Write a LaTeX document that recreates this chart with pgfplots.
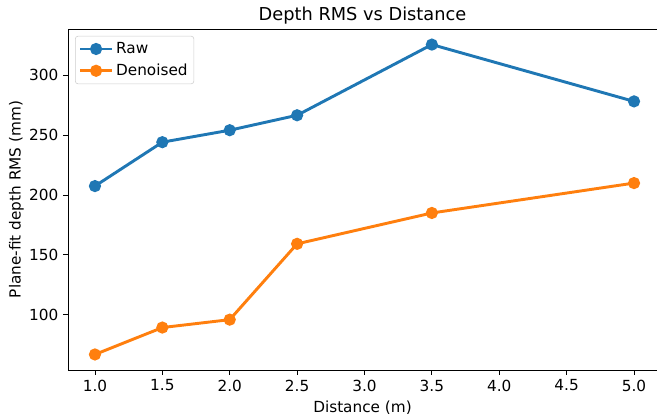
\documentclass[border=0pt]{standalone}
\usepackage{fontspec}
\setmainfont{DejaVu Sans}
\usepackage{pgfplots}
\pgfplotsset{compat=1.18}
\definecolor{c0}{HTML}{1F77B4}
\definecolor{c1}{HTML}{FF7F0E}
\begin{document}
\begin{tikzpicture}[x=0.72pt,y=0.72pt]
\begin{axis}[
  at={(0,0)}, anchor=south west,
  scale only axis,
  width=424.1pt, height=245.5pt,
  xmin=0.8, xmax=5.1707,
  ymin=53.7, ymax=338.8,
  xtick={1,1.5,...,5},
  ytick={100,150,200,250,300},
  xticklabel style={/pgf/number format/.cd,fixed,fixed zerofill,precision=1},
  /pgf/number format/assume math mode=true,
  tick label style={font=\fontsize{11}{13}\selectfont},
  tick align=outside,
  tick pos=left,
  major tick length=3.5pt,
  every tick/.style={black, line width=0.6pt},
  axis line style={black, line width=0.6pt},
  title={Depth RMS vs Distance},
  title style={font=\fontsize{12.8}{15}\selectfont, yshift=-6pt},
  xlabel={Distance (m)},
  ylabel={Plane-fit depth RMS (mm)},
  label style={font=\fontsize{11}{13}\selectfont},
  xlabel style={yshift=0pt},
  ylabel style={yshift=-3pt},
  legend cell align=left,
  legend style={draw=black!20, rounded corners=2pt, font=\fontsize{11}{13}\selectfont, at={(0.012,0.98)}, anchor=north west, inner sep=2.5pt, row sep=2pt},
  legend image code/.code={
    \draw[#1, line width=2.1pt] (0cm,0cm) -- (0.8cm,0cm);
    \fill[#1] (0.4cm,0cm) circle (3.3pt);
  },
]
\addplot[c0, line width=2.1pt, mark=*, mark size=3.3pt, mark options={fill=c0, draw=c0}] coordinates {
(1.0,207.5) (1.5,244.2) (2.0,254.2) (2.5,266.7) (3.5,325.8) (5.0,278.3)
};
\addlegendentry{Raw}
\addplot[c1, line width=2.1pt, mark=*, mark size=3.3pt, mark options={fill=c1, draw=c1}] coordinates {
(1.0,66.7) (1.5,89.2) (2.0,95.8) (2.5,159.2) (3.5,185.0) (5.0,210.0)
};
\addlegendentry{Denoised}
\end{axis}
\pgfresetboundingbox
\path[use as bounding box] (-68,-48) rectangle (589,370);
\end{tikzpicture}
\end{document}
